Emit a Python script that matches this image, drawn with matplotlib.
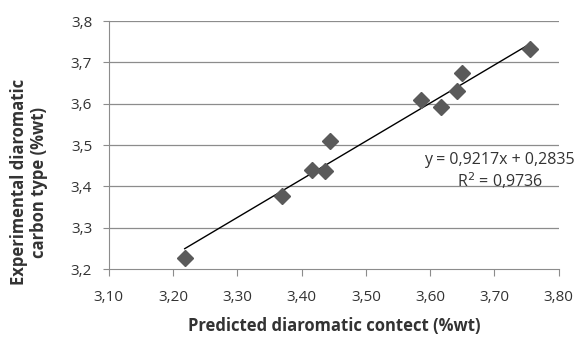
import numpy as np
import matplotlib.pyplot as plt

plt.rcParams['font.family'] = ['Open Sans', 'DejaVu Sans']

# predicted vs experimental diaromatic content (%wt)
predicted = [3.218, 3.369, 3.416, 3.437, 3.444, 3.585, 3.617, 3.642, 3.649, 3.755]
experimental = [3.227, 3.378, 3.439, 3.438, 3.509, 3.610, 3.591, 3.631, 3.675, 3.732]
slope = 0.9217
intercept = 0.2835
xticks = [3.10, 3.20, 3.30, 3.40, 3.50, 3.60, 3.70, 3.80]
yticks = [3.2, 3.3, 3.4, 3.5, 3.6, 3.7, 3.8]

fig = plt.figure(figsize=(5.76, 3.39), dpi=100)
ax = fig.add_axes([0.189, 0.206, 0.781, 0.732])

for y in yticks[1:]:
    ax.axhline(y, color='#8c8c8c', lw=0.9, zorder=0)

xl = np.array([min(predicted), max(predicted)])
ax.plot(xl, slope*xl + intercept, color='black', lw=1.0, zorder=2)
ax.plot(predicted, experimental, 'D', color='#5a5a5a', markersize=8.5, zorder=3)

ax.set_xlim(3.10, 3.80)
ax.set_ylim(3.2, 3.8)
ax.set_xticks(xticks)
ax.set_yticks(yticks)
ax.set_xticklabels([('%.2f' % v).replace('.', ',') for v in xticks], fontsize=11)
ax.set_yticklabels([('%.1f' % v).replace('.', ',') for v in yticks], fontsize=11)
for s in ['top', 'right']:
    ax.spines[s].set_visible(False)
for s in ['left', 'bottom']:
    ax.spines[s].set_color('#8c8c8c')
ax.tick_params(direction='out', color='#8c8c8c', labelcolor='#333333')
ax.tick_params(axis='x', length=5, pad=10)
ax.tick_params(axis='y', length=4, pad=8)

ax.set_xlabel('Predicted diaromatic contect (%wt)', fontsize=12, fontweight='bold', color='#333333', labelpad=9)
fig.text(29/576, 1 - 182/339, 'Experimental diaromatic\ncarbon type (%wt)', rotation=90,
         ha='center', va='center', fontsize=12, fontweight='bold', color='#333333',
         multialignment='center', linespacing=1.15)

ax.text(3.708, 3.436, 'y = 0,9217x + 0,2835\nR$^2$ = 0,9736', ha='center', va='center',
        fontsize=11.5, color='#333333', linespacing=1.1, clip_on=False)

fig.savefig('out.png', dpi=100)
